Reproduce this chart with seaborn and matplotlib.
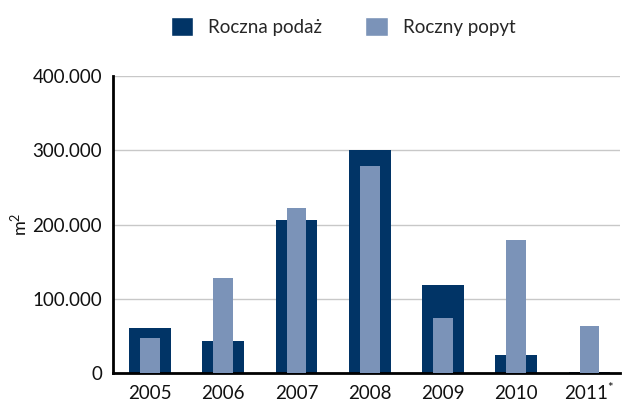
import matplotlib
matplotlib.use("Agg")
import matplotlib.pyplot as plt
import seaborn as sns
import pandas as pd
from matplotlib.patches import Patch

years = ["2005", "2006", "2007", "2008", "2009", "2010", "2011$^{*}$"]
supply = [61000, 43000, 206000, 300000, 118500, 24000, 1500]
demand = [47000, 128000, 222000, 279000, 74000, 179000, 63000]
yticks = [0, 100000, 200000, 300000, 400000]
ytick_labels = ["0", "100.000", "200.000", "300.000", "400.000"]
series_names = ["Roczna podaż", "Roczny popyt"]

sns.set_theme(style="white")
plt.rcParams['font.family'] = ['Lato', 'DejaVu Sans']
plt.rcParams['mathtext.fontset'] = 'custom'
plt.rcParams['mathtext.rm'] = 'Lato'
plt.rcParams['mathtext.it'] = 'Lato'

dark = "#013466"
light = "#7b93b8"

df = pd.DataFrame({"year": years, "supply": supply, "demand": demand})

fig = plt.figure(figsize=(6.26, 4.09), dpi=100)
ax = fig.add_axes([0.181, 0.088, 0.81, 0.726])

sns.barplot(data=df, x="year", y="supply", color=dark, width=0.57, ax=ax,
            saturation=1, zorder=2, linewidth=0)
sns.barplot(data=df, x="year", y="demand", color=light, width=0.27, ax=ax,
            saturation=1, zorder=3, linewidth=0)

ax.set_ylim(0, 400000)
ax.set_xlim(-0.5, 6.42)
ax.set_yticks(yticks)
ax.set_yticklabels(ytick_labels, fontsize=13.5, color="#111111")
ax.tick_params(axis="x", labelsize=13.5, colors="#111111", length=0, pad=19)
ax.tick_params(axis="y", length=0, pad=8)
for lbl in ax.get_xticklabels():
    lbl.set_verticalalignment("baseline")
ax.yaxis.grid(True, color="#c8c8c8", linewidth=1)
ax.set_axisbelow(True)
for s in ["top", "right"]:
    ax.spines[s].set_visible(False)
for s in ["left", "bottom"]:
    ax.spines[s].set_color("black")
    ax.spines[s].set_linewidth(2)
ax.set_xlabel("")
ax.set_ylabel("m$^2$", fontsize=13, color="#111111", labelpad=2)

handles = [Patch(facecolor=dark, label=series_names[0]),
           Patch(facecolor=light, label=series_names[1])]
fig.legend(handles=handles, loc="upper center", bbox_to_anchor=(0.548, 1.0),
           ncol=2, frameon=False, fontsize=13.5, handlelength=1.2, handleheight=1.2,
           columnspacing=2.3, handletextpad=0.8)

fig.savefig("out.png", dpi=100)
